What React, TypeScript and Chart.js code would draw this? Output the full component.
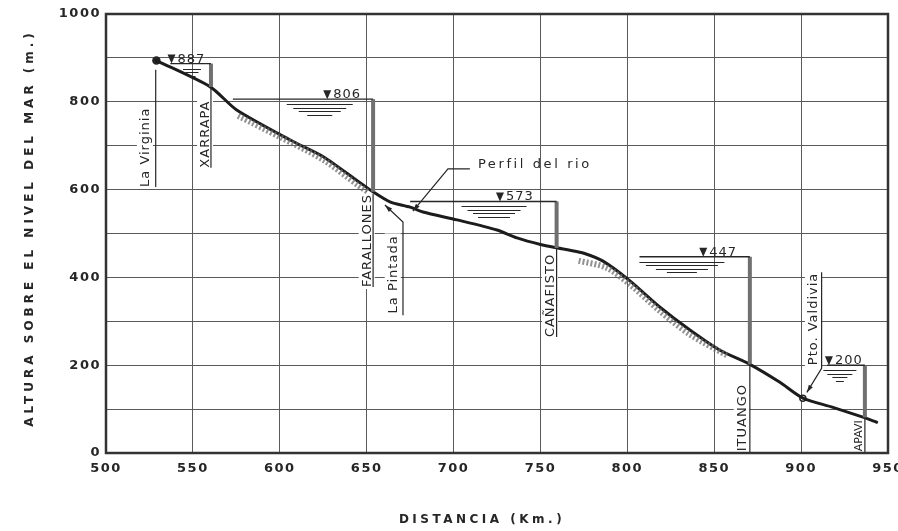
import React, { useEffect, useRef } from 'react';
import { Chart, registerables } from 'chart.js';

Chart.register(...registerables);

// River profile (km, metres above sea level)
const profileKm = [529, 560, 575, 606, 625, 644, 653.6, 663.4, 675, 682.4, 702, 725, 736.5, 750, 760, 767, 775, 786, 801.5, 818.8, 836, 853.3, 870.5, 887.8, 901, 918.3, 936, 943.5];
const profileM = [894, 834, 782, 713, 675, 622, 595, 572, 560, 549, 531, 508, 490, 475, 467, 462, 455, 437, 392, 332, 280, 234, 202, 161, 125, 104, 81, 70];

// Canyon hatching below the profile
const hatchAKm = [576, 600, 625, 645, 651];
const hatchAM = [768, 720, 668, 610, 594];
const hatchBKm = [772, 788, 801.5, 818.8, 836, 858];
const hatchBM = [438, 422, 384, 323, 270, 221];

// Dams / reservoirs
const damKm = [560.4, 653.7, 759.3, 870.5, 936.7];
const damLevel = [887, 806, 573, 447, 200];
const damBase = [834, 595, 467, 202, 81];
const reservoirStartKm = [537, 573, 675, 807, 915];
const levelMarkKm = [537.7, 627.3, 726.7, 843.7, 916];
const waterSymKm = [549.5, 623, 723.3, 831.4, 922.3];

// Place names (vertical labels)
const placeNames = ['La Virginia', 'XARRAPA', 'FARALLONES', 'La Pintada', 'CAÑAFISTO', 'ITUANGO', 'Pto. Valdivia', 'APAVI'];
const placeKm = [522.4, 557, 650, 665, 755.5, 865.8, 906.8, 932.7];
const placeM = [606, 650, 378, 318, 264, 4, 200, 4];

// Leader lines
const leaderKm = [
  [528.6, 528.6],
  [560.4, 560.4],
  [653.7, 653.7],
  [660.5, 670.9, 670.9],
  [676.6, 696.8, 709.4],
  [759.3, 759.3],
  [870.5, 870.5],
  [903.3, 911.8, 911.8],
  [936.7, 936.7],
];
const leaderM = [
  [873, 606],
  [834, 650],
  [590, 378],
  [565, 526, 314],
  [551, 647, 647],
  [467, 264],
  [202, 0],
  [138, 193, 412],
  [81, 0],
];
const arrowLeaders = [3, 4, 7];

const profileLabel = 'Perfil del rio';
const profileLabelKm = 714;
const profileLabelM = 656;

const markerKm = [529, 901];
const markerM = [894, 125];

const xTicks = [500, 550, 600, 650, 700, 750, 800, 850, 900, 950];
const yTicks = [0, 200, 400, 600, 800, 1000];

const xTitle = 'DISTANCIA (Km.)';
const yTitle = 'ALTURA SOBRE EL NIVEL DEL MAR (m.)';

const INK = '#262626';
const FONT = '"DejaVu Sans", sans-serif';

const pts = (xs: number[], ys: number[]) => xs.map((x, i) => ({ x, y: ys[i] }));

export default function App() {
  const ref = useRef<HTMLCanvasElement | null>(null);

  useEffect(() => {
    if (!ref.current) return;

    const datasets: any[] = [];
    datasets.push({ data: pts(hatchAKm, hatchAM), borderColor: 'rgba(110,110,110,0.75)', borderWidth: 6, borderDash: [2, 2], pointRadius: 0, tension: 0.3 });
    datasets.push({ data: pts(hatchBKm, hatchBM), borderColor: 'rgba(110,110,110,0.75)', borderWidth: 6, borderDash: [2, 2], pointRadius: 0, tension: 0.3 });
    damKm.forEach((k, i) => {
      datasets.push({ data: [{ x: reservoirStartKm[i], y: damLevel[i] }, { x: k, y: damLevel[i] }], borderColor: INK, borderWidth: 1.4, pointRadius: 0 });
      datasets.push({ data: [{ x: k, y: damBase[i] }, { x: k, y: damLevel[i] }], borderColor: '#707070', borderWidth: 4, pointRadius: 0 });
    });
    leaderKm.forEach((ks, i) => {
      datasets.push({ data: pts(ks, leaderM[i]), borderColor: INK, borderWidth: 1.2, pointRadius: 0 });
    });
    datasets.push({ data: pts(profileKm, profileM), borderColor: '#1c1c1c', borderWidth: 3, pointRadius: 0, tension: 0.25, borderCapStyle: 'round', borderJoinStyle: 'round' });
    datasets.push({ data: pts(markerKm, markerM), showLine: false, pointRadius: [3.5, 3], pointBackgroundColor: [INK, '#ffffff'], pointBorderColor: INK, pointBorderWidth: 1.5 });

    const labelSizes = [13, 13, 13, 13, 13, 13, 13, 11];
    const labelSpacing = [1, 1, 1, 1, 1, 1, 1, 0];

    const annot = {
      id: 'annot',
      beforeDraw(chart: any) {
        chart.ctx.letterSpacing = '1.5px';
      },
      beforeDatasetsDraw(chart: any) {
        const { ctx, scales } = chart;
        const xs = scales.x, ys = scales.y;
        ctx.save();
        placeNames.forEach((name, i) => {
          const px = xs.getPixelForValue(placeKm[i]);
          const py = ys.getPixelForValue(placeM[i]);
          ctx.save();
          ctx.font = `${labelSizes[i]}px ${FONT}`;
          ctx.letterSpacing = `${labelSpacing[i]}px`;
          ctx.translate(px, py);
          ctx.rotate(-Math.PI / 2);
          const w = ctx.measureText(name).width;
          ctx.fillStyle = '#ffffff';
          ctx.fillRect(-2, -8, w + 4, 16);
          ctx.fillStyle = INK;
          ctx.textAlign = 'left';
          ctx.textBaseline = 'middle';
          ctx.fillText(name, 0, 1);
          ctx.restore();
        });
        ctx.restore();
      },
      afterDatasetsDraw(chart: any) {
        const { ctx, scales, chartArea } = chart;
        const xs = scales.x, ys = scales.y;
        ctx.save();
        // frame
        ctx.strokeStyle = '#333';
        ctx.lineWidth = 2.5;
        ctx.strokeRect(chartArea.left, chartArea.top, chartArea.right - chartArea.left, chartArea.bottom - chartArea.top);

        // water level symbols
        const widths = [[18, 13, 7], [66, 53, 42, 25], [65, 53, 42, 32], [85, 72, 52, 30], [33, 25, 15, 8]];
        ctx.fillStyle = INK;
        ctx.strokeStyle = INK;
        ctx.lineWidth = 1;
        ctx.font = `13px ${FONT}`;
        ctx.letterSpacing = '1px';
        damLevel.forEach((lv, i) => {
          const ly = ys.getPixelForValue(lv);
          const tx = xs.getPixelForValue(levelMarkKm[i]);
          ctx.beginPath();
          ctx.moveTo(tx - 4, ly - 9);
          ctx.lineTo(tx + 4, ly - 9);
          ctx.lineTo(tx, ly);
          ctx.closePath();
          ctx.fill();
          ctx.textAlign = 'left';
          ctx.textBaseline = 'alphabetic';
          ctx.fillText(String(lv), tx + 6, ly - 1);
          const cx = xs.getPixelForValue(waterSymKm[i]);
          widths[i].forEach((w, j) => {
            const yy = Math.round(ly + 5 + j * 3.5) + 0.5;
            ctx.beginPath();
            ctx.moveTo(cx - w / 2, yy);
            ctx.lineTo(cx + w / 2, yy);
            ctx.stroke();
          });
        });

        // arrowheads
        arrowLeaders.forEach((li) => {
          const x0 = xs.getPixelForValue(leaderKm[li][0]);
          const y0 = ys.getPixelForValue(leaderM[li][0]);
          const x1 = xs.getPixelForValue(leaderKm[li][1]);
          const y1 = ys.getPixelForValue(leaderM[li][1]);
          const a = Math.atan2(y0 - y1, x0 - x1);
          ctx.beginPath();
          ctx.moveTo(x0, y0);
          ctx.lineTo(x0 - 8 * Math.cos(a - 0.3), y0 - 8 * Math.sin(a - 0.3));
          ctx.lineTo(x0 - 8 * Math.cos(a + 0.3), y0 - 8 * Math.sin(a + 0.3));
          ctx.closePath();
          ctx.fill();
        });

        // profile label
        ctx.letterSpacing = '2.6px';
        ctx.textBaseline = 'middle';
        ctx.fillText(profileLabel, xs.getPixelForValue(profileLabelKm), ys.getPixelForValue(profileLabelM));
        ctx.restore();
      },
      afterDraw(chart: any) {
        const { ctx } = chart;
        ctx.save();
        ctx.fillStyle = INK;
        ctx.font = `bold 12px ${FONT}`;
        ctx.letterSpacing = '3.5px';
        ctx.textAlign = 'center';
        ctx.textBaseline = 'middle';
        ctx.fillText(xTitle, 482, 520);
        ctx.translate(30, 228);
        ctx.rotate(-Math.PI / 2);
        ctx.letterSpacing = '4px';
        ctx.fillText(yTitle, 0, 0);
        ctx.restore();
        ctx.letterSpacing = '0px';
      },
    };

    const chart = new Chart(ref.current, {
      type: 'line',
      data: { datasets },
      options: {
        animation: false,
        responsive: false,
        parsing: true,
        layout: { autoPadding: false, padding: { top: 14, right: 10, left: 0, bottom: 0 } } as any,
        plugins: { legend: { display: false }, tooltip: { enabled: false } },
        scales: {
          x: {
            type: 'linear',
            min: 500,
            max: 950,
            afterFit: (s: any) => { s.height = 78; s.paddingLeft = 0; s.paddingRight = 0; },
            afterBuildTicks: (s: any) => { s.ticks = xTicks.map((v) => ({ value: v })); },
            ticks: { color: INK, padding: 8, maxRotation: 0, autoSkip: false, font: { family: FONT, size: 13, weight: 'bold' } },
            grid: { color: '#5a5a5a', lineWidth: 1, drawTicks: false },
            border: { display: false },
          },
          y: {
            type: 'linear',
            min: 0,
            max: 1000,
            afterFit: (s: any) => { s.width = 106; s.paddingTop = 0; s.paddingBottom = 0; },
            ticks: {
              stepSize: 100,
              color: INK,
              padding: 5,
              autoSkip: false,
              font: { family: FONT, size: 13, weight: 'bold' },
              callback: (v: any) => (yTicks.includes(Number(v)) ? String(v) : ''),
            },
            grid: { color: '#5a5a5a', lineWidth: 1, drawTicks: false },
            border: { display: false },
          },
        },
      },
      plugins: [annot],
    });
    return () => chart.destroy();
  }, []);

  return (
    <div style={{ position: 'fixed', left: 0, top: 0, width: 898, height: 531, background: '#fff' }}>
      <canvas ref={ref} width={898} height={531} style={{ display: 'block' }} />
    </div>
  );
}
